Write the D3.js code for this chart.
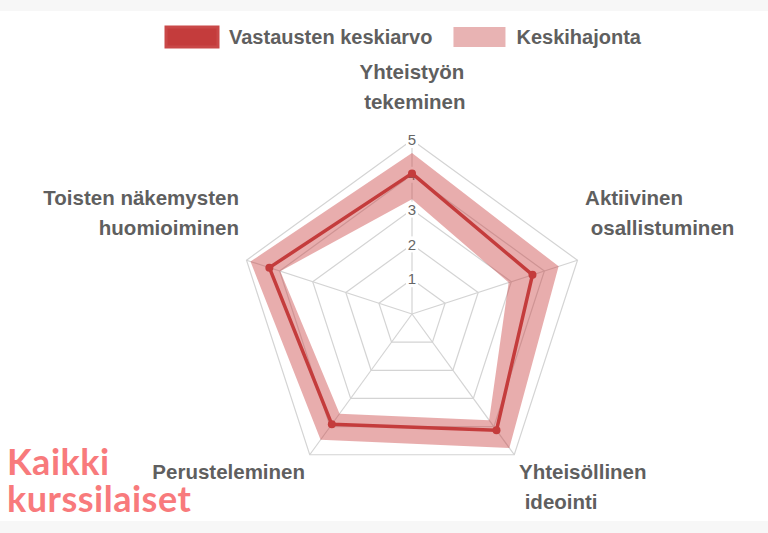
<!DOCTYPE html>
<html>
<head>
<meta charset="utf-8">
<script src="https://cdn.jsdelivr.net/npm/d3@7"></script>
<style>
  body { margin: 0; background: #fff; }
  svg { display: block; }
  text { white-space: pre; }
</style>
</head>
<body>
<svg id="chart"></svg>
<script>
// chart size
var width = 768;
var height = 533;
var cx = 412, cy = 314; // centre of the radar

// data
var axisLabels = [
  ['Yhteistyön', ' tekeminen'],
  ['Aktiivinen', ' osallistuminen'],
  ['Yhteisöllinen', ' ideointi'],
  ['Perusteleminen'],
  ['Toisten näkemysten', 'huomioiminen']
];
var means = [4.04, 3.64, 4.13, 3.92, 4.31];
var sdLower = [3.30, 2.92, 3.77, 3.54, 3.98];
var sdUpper = [4.63, 4.43, 4.76, 4.47, 4.88];
var ticks = [1, 2, 3, 4, 5];
var seriesNames = ['Vastausten keskiarvo', 'Keskihajonta'];
var titleLines = ['Kaikki', 'kurssilaiset'];

var lineColor = '#c43c3c';
var bandColor = 'rgba(200,60,60,0.42)';
var gridColor = '#d4d4d4';
var textColor = '#5f5f5f';

var svg = d3.select('#chart')
  .attr('width', width)
  .attr('height', height);

// faint strips at top and bottom
svg.append('rect').attr('x', 0).attr('y', 0).attr('width', width).attr('height', 11).attr('fill', '#f7f7f7');
svg.append('rect').attr('x', 0).attr('y', 521).attr('width', width).attr('height', 12).attr('fill', '#f7f7f7');

var r = d3.scaleLinear().domain([0, 5]).range([0, 174]);
var n = axisLabels.length;
var angle = i => -Math.PI / 2 + i * 2 * Math.PI / n;
var px = (i, v) => cx + Math.cos(angle(i)) * r(v);
var py = (i, v) => cy + Math.sin(angle(i)) * r(v);

var radial = d3.lineRadial()
  .angle((d, i) => i * 2 * Math.PI / n)
  .radius(d => r(d))
  .curve(d3.curveLinearClosed);

var g = svg.append('g').attr('transform', 'translate(' + cx + ',' + cy + ')');

// grid rings
g.selectAll('path.ring')
  .data(ticks)
  .enter()
    .append('path')
      .attr('class', 'ring')
      .attr('d', t => radial(d3.range(n).map(() => t)))
      .attr('fill', 'none')
      .attr('stroke', gridColor)
      .attr('stroke-width', 1.2);

// spokes
g.selectAll('line.spoke')
  .data(d3.range(n))
  .enter()
    .append('line')
      .attr('x1', 0).attr('y1', 0)
      .attr('x2', i => px(i, 5) - cx)
      .attr('y2', i => py(i, 5) - cy)
      .attr('stroke', gridColor)
      .attr('stroke-width', 1.2);

// tick labels with white backdrop
var tickG = g.selectAll('g.tick')
  .data(ticks)
  .enter()
    .append('g')
      .attr('transform', t => 'translate(0,' + (-r(t)) + ')');
tickG.append('rect')
  .attr('x', -6).attr('y', -8).attr('width', 12).attr('height', 16)
  .attr('fill', '#fff');
tickG.append('text')
  .attr('text-anchor', 'middle')
  .attr('dy', '0.35em')
  .attr('font-family', 'Liberation Sans, Arial, sans-serif')
  .attr('font-size', 15)
  .attr('fill', '#666')
  .text(t => t);

// standard deviation band (between lower and upper)
g.append('path')
  .attr('d', radial(sdUpper) + radial(sdLower))
  .attr('fill', bandColor)
  .attr('fill-rule', 'evenodd');

// mean line
g.append('path')
  .attr('d', radial(means))
  .attr('fill', 'none')
  .attr('stroke', lineColor)
  .attr('stroke-width', 3.5)
  .attr('stroke-linejoin', 'round');

g.selectAll('circle.pt')
  .data(means)
  .enter()
    .append('circle')
      .attr('cx', (d, i) => px(i, d) - cx)
      .attr('cy', (d, i) => py(i, d) - cy)
      .attr('r', 4)
      .attr('fill', lineColor);

// axis labels
var labelR = 182, lineH = 30;
axisLabels.forEach(function(lines, i) {
  var c = Math.cos(angle(i)), s = Math.sin(angle(i));
  var x = cx + c * labelR;
  var y = cy + s * labelR;
  var anchor = Math.abs(c) < 0.01 ? 'middle' : (c > 0 ? 'start' : 'end');
  var firstY = s < 0 ? (y - 15 - (lines.length - 0.5) * lineH) : (y + 11);
  svg.append('text')
    .attr('text-anchor', anchor)
    .attr('font-family', 'Liberation Sans, Arial, sans-serif')
    .attr('font-weight', 'bold')
    .attr('font-size', 20.5)
    .attr('fill', textColor)
    .selectAll('tspan')
      .data(lines)
      .enter()
        .append('tspan')
          .attr('x', x)
          .attr('y', (d, k) => firstY + k * lineH)
          .attr('dy', '0.35em')
          .text(d => d);
});

// legend
var legendX = 166;
var legend = svg.append('g');
seriesNames.forEach(function(name, i) {
  var box = legend.append('rect')
    .attr('x', legendX).attr('y', 27)
    .attr('width', 52).attr('height', 20)
    .attr('fill', i === 0 ? lineColor : '#e8b3b3');
  if (i === 0) box.attr('stroke', '#c94848').attr('stroke-width', 3);
  var t = legend.append('text')
    .attr('x', legendX + 63)
    .attr('y', 37)
    .attr('dy', '0.35em')
    .attr('font-family', 'Liberation Sans, Arial, sans-serif')
    .attr('font-weight', 'bold')
    .attr('font-size', 20)
    .attr('fill', textColor)
    .text(name);
  legendX += 63 + t.node().getComputedTextLength() + 21;
});

// corner title
svg.selectAll('text.title')
  .data(titleLines)
  .enter()
    .append('text')
      .attr('class', 'title')
      .attr('x', 7)
      .attr('y', (d, k) => 475 + k * 37)
      .attr('font-family', 'Lato, sans-serif')
      .attr('font-weight', 'bold')
      .attr('font-size', 36)
      .attr('letter-spacing', 0.5)
      .attr('fill', '#f87a7c')
      .text(d => d);
</script>
</body>
</html>
